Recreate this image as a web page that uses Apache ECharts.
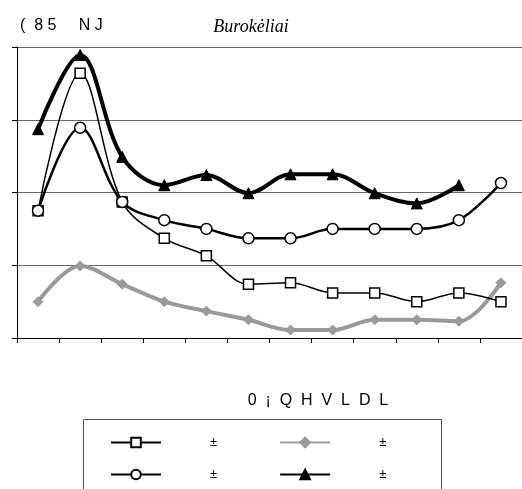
<!DOCTYPE html>
<html><head><meta charset="utf-8">
<script src="https://cdn.jsdelivr.net/npm/echarts@6/dist/echarts.min.js"></script>
<style>html,body{margin:0;padding:0;background:#fff}#c{width:522px;height:489px}</style>
</head><body><div id="c"></div>
<script>
const categories = ['1','2','3','4','5','6','7','8','9','10','11','12'];
const seriesNames = ['s1','s2','s3','s4'];
const legendLabel = '±';
const squares = [1.75, 3.64, 1.87, 1.37, 1.13, 0.74, 0.76, 0.62, 0.62, 0.50, 0.62, 0.50];
const diamonds = [0.50, 0.99, 0.74, 0.50, 0.37, 0.25, 0.11, 0.11, 0.25, 0.25, 0.23, 0.76];
const circles = [1.75, 2.89, 1.87, 1.62, 1.50, 1.37, 1.37, 1.50, 1.50, 1.50, 1.62, 2.13];
const triangles = [2.87, 3.89, 2.49, 2.10, 2.24, 1.99, 2.25, 2.25, 1.99, 1.85, 2.10, null];
const titleText = 'Burokėliai';
const unitText = '(  8 5     N J';
const xName = '0  ¡  Q  H  V  L  D  L';

const chart = echarts.init(document.getElementById('c'), null, {renderer:'canvas'});
const sm = 0.35;
chart.setOption({
  animation:false,
  backgroundColor:'#fff',
  title:[
    {text:titleText, left:246, top:13, textAlign:'center',
     textStyle:{fontFamily:'Liberation Serif', fontStyle:'italic', fontWeight:'normal', fontSize:18, color:'#000'}},
    {text:unitText, left:15, top:13,
     textStyle:{fontFamily:'Liberation Sans', fontWeight:'normal', fontSize:16, color:'#000'}},
    {text:xName, left:313, top:388, textAlign:'center',
     textStyle:{fontFamily:'Liberation Sans', fontWeight:'normal', fontSize:16, color:'#000'}}
  ],
  grid:{left:17, top:47, width:507, height:291, containLabel:false},
  xAxis:{type:'category', data:categories, boundaryGap:true,
    axisLine:{lineStyle:{color:'#000', width:1}},
    axisTick:{show:true, length:5, lineStyle:{color:'#000'}},
    axisLabel:{show:false}, splitLine:{show:false}},
  yAxis:{type:'value', min:0, max:4, interval:1,
    axisLine:{show:true, lineStyle:{color:'#000', width:1}},
    axisTick:{show:true, length:5, lineStyle:{color:'#000'}},
    axisLabel:{show:false},
    splitLine:{show:true, lineStyle:{color:'#666', width:1}}},
  legend:[
    {data:[seriesNames[0], seriesNames[1]], left:105, top:431, itemWidth:50, itemHeight:12, itemGap:62,
     formatter:()=>legendLabel, textStyle:{fontFamily:'Liberation Sans', fontSize:13, color:'#000', padding:[0,0,0,44]}},
    {data:[seriesNames[2], seriesNames[3]], left:105, top:463, itemWidth:50, itemHeight:12, itemGap:62,
     formatter:()=>legendLabel, textStyle:{fontFamily:'Liberation Sans', fontSize:13, color:'#000', padding:[0,0,0,44]}}
  ],
  graphic:[{type:'rect', shape:{x:83.5, y:419.5, width:358, height:80},
    style:{fill:'none', stroke:'#555', lineWidth:1}, silent:true}],
  series:[
    {name:seriesNames[0], type:'line', data:squares, smooth:sm, symbol:'rect', symbolSize:10,
     lineStyle:{color:'#000', width:1.5}, itemStyle:{color:'#fff', borderColor:'#000', borderWidth:1.5}, z:3},
    {name:seriesNames[1], type:'line', data:diamonds, smooth:sm, symbol:'diamond', symbolSize:10,
     lineStyle:{color:'#9a9a9a', width:4}, itemStyle:{color:'#9a9a9a', borderColor:'#9a9a9a', borderWidth:1}, z:2},
    {name:seriesNames[2], type:'line', data:circles, smooth:sm, symbol:'circle', symbolSize:11,
     lineStyle:{color:'#000', width:2.5}, itemStyle:{color:'#fff', borderColor:'#000', borderWidth:1.5}, z:4},
    {name:seriesNames[3], type:'line', data:triangles, smooth:sm, symbol:'triangle', symbolSize:11,
     lineStyle:{color:'#000', width:4}, itemStyle:{color:'#000', borderColor:'#000', borderWidth:1}, z:5}
  ]
});
</script></body></html>
